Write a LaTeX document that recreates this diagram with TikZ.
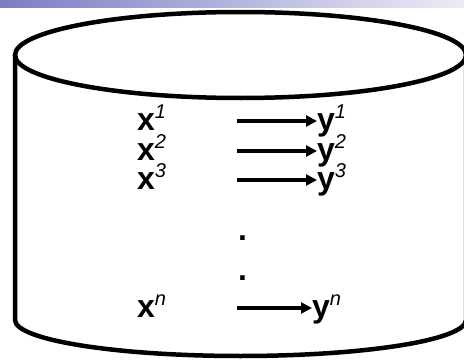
\documentclass[tikz,border=0pt]{standalone}
\usepackage{fontspec}
\setmainfont{Liberation Sans}
\usetikzlibrary{arrows.meta, positioning}
\definecolor{barleft}{RGB}{124, 124, 196}
\definecolor{barright}{RGB}{236, 236, 246}
\newcommand{\pairsup}[2]{\textbf{#1}\raisebox{0.36em}{\fontsize{20}{20}\selectfont\mdseries\itshape #2}}

\begin{document}
\begin{tikzpicture}[x=1pt, y=1pt,
    lbl/.style={inner sep=0pt, anchor=base west, font=\fontsize{32}{32}\selectfont},
    maparrow/.style={line width=3.5pt, -{Triangle[length=11pt, width=11pt]}}]
  \useasboundingbox (0,0) rectangle (464,360);
  \clip (0,0) rectangle (464,360);
  \shade[left color=barleft, right color=barright] (0,353) rectangle (464,360);
  % cylinder
  \draw[line width=4.5pt] (240.5,305) ellipse [x radius=225.5, y radius=43];
  \draw[line width=4.5pt, line join=round] (15,305) -- (15,40)
    arc[start angle=180, end angle=360, x radius=225.5, y radius=36] -- (466,305);
  % pairs
  \node[lbl] (x1) at (137,230) {\pairsup{x}{1}};
  \node[lbl] (x2) at (137,200) {\pairsup{x}{2}};
  \node[lbl] (x3) at (137,171) {\pairsup{x}{3}};
  \node[lbl] (xn) at (137,43) {\pairsup{x}{n}};
  \node[lbl] (y1) at (317,230) {\pairsup{y}{1}};
  \node[lbl] (y2) at (317,200) {\pairsup{y}{2}};
  \node[lbl] (y3) at (317,171) {\pairsup{y}{3}};
  \node[lbl] (yn) at (312,43) {\pairsup{y}{n}};
  \node[lbl] (dot1) at (238,120) {\textbf{.}};
  \node[lbl] (dot2) at (238,80) {\textbf{.}};
  \coordinate (s1) at (237,239);
  \coordinate (s2) at (237,209);
  \coordinate (s3) at (237,180);
  \coordinate (sn) at (237,52);
  \draw[maparrow] (s1) -- (y1.west |- s1);
  \draw[maparrow] (s2) -- (y2.west |- s2);
  \draw[maparrow] (s3) -- (y3.west |- s3);
  \draw[maparrow] (sn) -- (yn.west |- sn);
\end{tikzpicture}
\end{document}
